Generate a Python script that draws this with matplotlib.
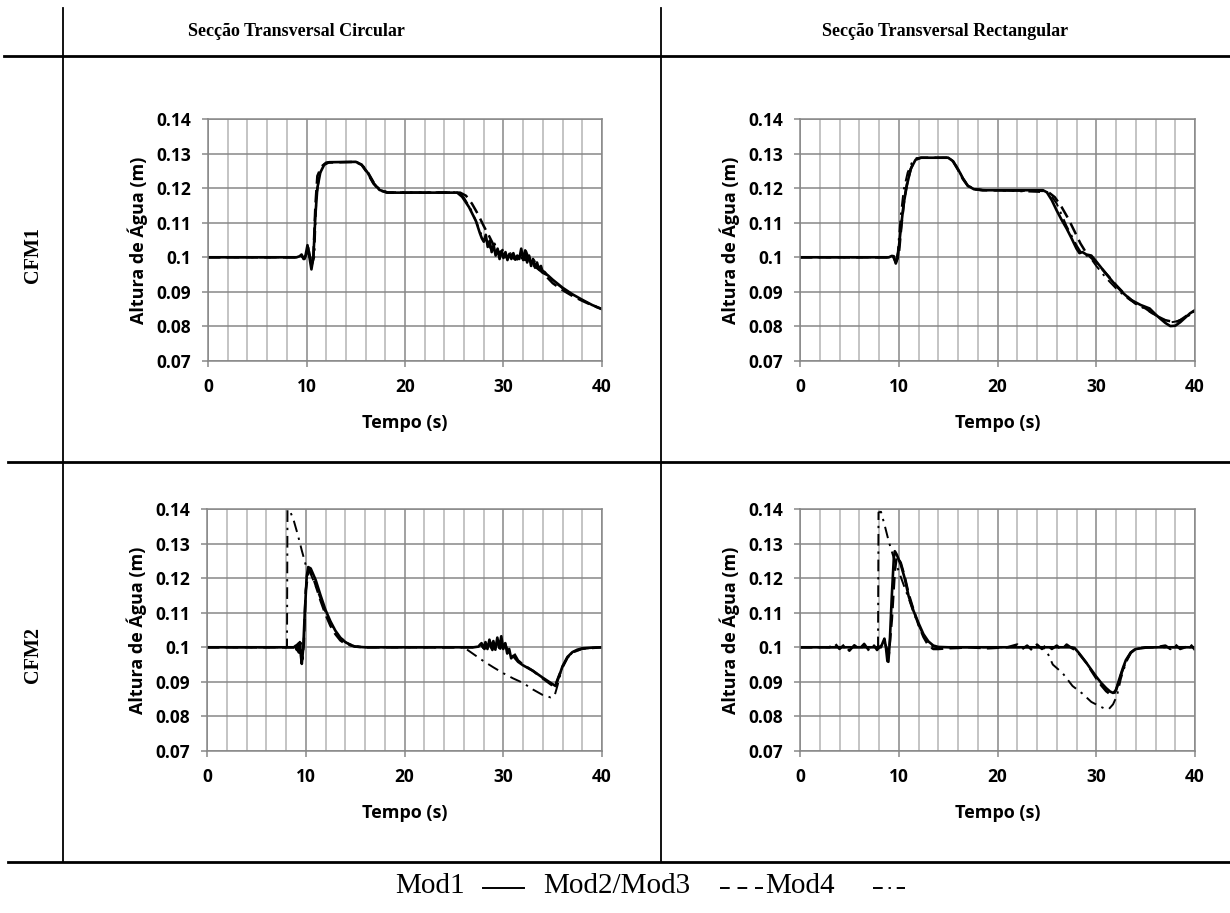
import numpy as np
import matplotlib.pyplot as plt
from matplotlib.lines import Line2D

plt.rcParams['font.family'] = ['Open Sans', 'DejaVu Sans']
plt.rcParams['font.weight'] = 'bold'

# water height (m) against time (s), read off each run
# circular section, CFM1
t_c1_m1 = [0, 9.0, 9.3, 9.5, 9.7, 9.9, 10.1, 10.3, 10.5, 10.7, 10.9, 11.1, 11.4, 11.8, 12.3, 15.0, 15.6, 16.2,
           16.8, 17.4, 18.2, 25.3, 25.8, 26.5, 27.2, 27.6, 27.8, 28.0, 28.2, 28.4, 28.6, 28.8, 29.0, 29.2, 29.4,
           29.6, 29.8, 30.0, 30.2, 30.4, 30.6, 30.8, 31.0, 31.2, 31.4, 31.6, 31.8, 32.0, 32.2, 32.4, 32.6, 32.8,
           33.0, 33.2, 33.4, 33.6, 33.8, 34.0, 34.5, 35.0, 36.0, 37.0, 38.0, 39.0, 40.0]
h_c1_m1 = [0.1, 0.1, 0.1003, 0.1008, 0.0995, 0.1005, 0.1035, 0.1, 0.0965, 0.1, 0.112, 0.12, 0.1245, 0.1268,
           0.1275, 0.1276, 0.1268, 0.1245, 0.1215, 0.1195, 0.1187, 0.1187, 0.1175, 0.1145, 0.1105, 0.107, 0.1055,
           0.1045, 0.1065, 0.103, 0.1048, 0.1015, 0.1035, 0.1005, 0.1025, 0.0995, 0.1018, 0.0998, 0.1015, 0.0992,
           0.101, 0.0995, 0.1012, 0.0993, 0.1005, 0.0995, 0.1025, 0.0992, 0.102, 0.0985, 0.1005, 0.0975, 0.0995,
           0.097, 0.0985, 0.0965, 0.0975, 0.0955, 0.0948, 0.0935, 0.0912, 0.0893, 0.0877, 0.0862, 0.085]
t_c1_m2 = [0, 9.0, 9.4, 9.8, 10.2, 10.5, 10.7, 10.9, 11.1, 11.5, 12.0, 15.0, 15.6, 16.2, 16.8, 17.4, 18.2, 25.6,
           26.2, 26.8, 27.4, 28.0, 28.6, 29.0, 29.4, 29.8, 30.2, 30.6, 31.0, 31.4, 31.8, 32.2, 32.6, 33.0, 34.0,
           35.0, 36.0, 37.0, 38.0, 39.0, 40.0]
h_c1_m2 = [0.1, 0.1, 0.1006, 0.0995, 0.1025, 0.098, 0.1005, 0.115, 0.1235, 0.1262, 0.1274, 0.1276, 0.1267,
           0.1243, 0.1213, 0.1194, 0.1187, 0.1187, 0.1178, 0.1155, 0.1125, 0.109, 0.1058, 0.1035, 0.102, 0.1008,
           0.1008, 0.0992, 0.1006, 0.0994, 0.1012, 0.0992, 0.1, 0.0978, 0.0955, 0.0925, 0.0905, 0.0888, 0.0874,
           0.0861, 0.085]
t_c1_m4 = [0, 9.1, 9.5, 9.9, 10.2, 10.5, 10.8, 11.0, 11.3, 11.7, 12.2, 15.1, 15.7, 16.3, 16.9, 17.5, 18.3, 25.4,
           26.0, 26.7, 27.3, 27.8, 28.3, 28.7, 29.1, 29.5, 29.9, 30.3, 30.7, 31.1, 31.5, 31.9, 32.3, 32.7, 33.1,
           33.6, 34.2, 35.0, 36.0, 37.0, 38.0, 39.0, 40.0]
h_c1_m4 = [0.1, 0.1, 0.1004, 0.0997, 0.1028, 0.0972, 0.1002, 0.117, 0.1238, 0.1265, 0.1275, 0.1276, 0.1266,
           0.1244, 0.1214, 0.1195, 0.1188, 0.1188, 0.1172, 0.1138, 0.1098, 0.1062, 0.1048, 0.1025, 0.104, 0.1008,
           0.1022, 0.0998, 0.1012, 0.0994, 0.1008, 0.0996, 0.1018, 0.0988, 0.0992, 0.0968, 0.0958, 0.0932, 0.091,
           0.0891, 0.0876, 0.0862, 0.0851]

# rectangular section, CFM1
t_r1_m1 = [0, 9.0, 9.3, 9.5, 9.7, 9.9, 10.2, 10.5, 10.8, 11.2, 11.7, 12.2, 15.0, 15.5, 16.0, 16.5, 17.0, 17.6,
           18.5, 24.6, 25.0, 25.5, 26.0, 26.5, 27.0, 27.5, 28.0, 28.3, 28.6, 29.0, 29.5, 30.0, 30.5, 31.0, 31.5,
           32.0, 32.7, 33.5, 34.5, 35.4, 36.0, 36.5, 37.0, 37.5, 38.0, 38.5, 39.0, 39.5, 40.0]
h_r1_m1 = [0.1, 0.1, 0.1004, 0.1003, 0.0982, 0.1, 0.108, 0.1155, 0.1205, 0.1255, 0.1282, 0.1288, 0.1288,
           0.1278, 0.1255, 0.1228, 0.1207, 0.1197, 0.1194, 0.1194, 0.1188, 0.1165, 0.1135, 0.1108, 0.1083,
           0.1055, 0.1025, 0.1012, 0.1015, 0.1008, 0.1005, 0.0988, 0.097, 0.0952, 0.0935, 0.0918, 0.0897,
           0.0877, 0.0862, 0.0852, 0.0835, 0.0822, 0.081, 0.0801, 0.0802, 0.0812, 0.0825, 0.0838, 0.0847]
t_r1_m2 = [0, 9.0, 9.4, 9.7, 10.0, 10.3, 10.6, 10.9, 11.3, 11.8, 12.3, 15.0, 15.5, 16.0, 16.5, 17.0, 17.6, 18.5,
           25.0, 25.8, 26.5, 27.2, 27.8, 28.4, 29.0, 29.5, 30.0, 31.0, 32.0, 33.0, 34.0, 35.0, 36.0, 37.0, 38.0,
           38.5, 39.0, 39.5, 40.0]
h_r1_m2 = [0.1, 0.1, 0.1004, 0.0985, 0.1005, 0.11, 0.1175, 0.1222, 0.1262, 0.1284, 0.1288, 0.1288, 0.1277,
           0.1253, 0.1226, 0.1206, 0.1197, 0.1194, 0.1192, 0.1174, 0.1145, 0.111, 0.1075, 0.104, 0.1012, 0.0998,
           0.0985, 0.0953, 0.092, 0.089, 0.0866, 0.0852, 0.0832, 0.0818, 0.0812, 0.0818, 0.0828, 0.0838, 0.0845]
t_r1_m4 = [0, 9.0, 9.4, 9.7, 9.9, 10.2, 10.5, 10.9, 11.3, 11.8, 15.0, 15.5, 16.0, 16.5, 17.0, 17.6, 18.5, 25.2,
           26.0, 27.0, 28.0, 28.5, 29.0, 29.5, 30.0, 31.0, 32.0, 33.0, 34.0, 35.0, 36.0, 37.0, 37.6, 38.2, 39.0,
           40.0]
h_r1_m4 = [0.1, 0.1, 0.1003, 0.0988, 0.1015, 0.112, 0.1195, 0.1245, 0.1272, 0.1287, 0.1288, 0.1279, 0.1256,
           0.1229, 0.1208, 0.1198, 0.1195, 0.1188, 0.1155, 0.109, 0.1035, 0.1012, 0.1005, 0.0995, 0.0975, 0.094,
           0.091, 0.0885, 0.0865, 0.085, 0.0832, 0.0818, 0.0812, 0.0815, 0.0825, 0.0842]

# circular section, CFM2
t_c2_m1 = [0, 8.8, 9.0, 9.1, 9.2, 9.3, 9.4, 9.5, 9.6, 9.75, 9.9, 10.1, 10.25, 10.5, 11.0, 11.5, 12.0, 12.5, 13.0,
           13.5, 14.0, 14.5, 15.0, 16.0, 27.0, 27.5, 27.8, 28.0, 28.2, 28.4, 28.6, 28.8, 29.0, 29.2, 29.4, 29.6,
           29.8, 30.0, 30.2, 30.4, 30.6, 30.8, 31.0, 31.5, 32.0, 33.0, 34.0, 34.8, 35.3, 35.7, 36.0, 36.5, 37.0,
           37.5, 38.0, 39.0, 40.0]
h_c2_m1 = [0.1, 0.1, 0.1005, 0.0992, 0.101, 0.0985, 0.1015, 0.0978, 0.0952, 0.1, 0.11, 0.1205, 0.1232, 0.1228,
           0.1195, 0.115, 0.1108, 0.1075, 0.1048, 0.1028, 0.1015, 0.1007, 0.1002, 0.1, 0.1, 0.1002, 0.1012,
           0.0998, 0.1015, 0.0995, 0.1022, 0.1, 0.1018, 0.0993, 0.1028, 0.0998, 0.1032, 0.0995, 0.1012, 0.0982,
           0.0995, 0.0968, 0.0975, 0.0958, 0.0948, 0.0932, 0.0912, 0.0897, 0.0888, 0.092, 0.0945, 0.0972, 0.0986,
           0.0993, 0.0997, 0.0999, 0.1]
t_c2_m2 = [0, 8.9, 9.1, 9.3, 9.5, 9.65, 9.8, 10.0, 10.3, 10.6, 11.0, 11.5, 12.0, 12.5, 13.0, 13.5, 14.0, 15.0,
           16.0, 27.2, 27.7, 28.1, 28.5, 28.9, 29.3, 29.7, 30.1, 30.5, 30.9, 31.5, 32.0, 33.0, 34.0, 34.8, 35.2,
           35.6, 36.0, 36.5, 37.0, 38.0, 40.0]
h_c2_m2 = [0.1, 0.1, 0.1008, 0.099, 0.1012, 0.0965, 0.1008, 0.1165, 0.1225, 0.1215, 0.118, 0.1135, 0.1095,
           0.1062, 0.1038, 0.102, 0.101, 0.1002, 0.1, 0.1, 0.1008, 0.0995, 0.1015, 0.0992, 0.1022, 0.0996,
           0.1018, 0.0985, 0.0992, 0.0962, 0.095, 0.0932, 0.091, 0.0893, 0.0885, 0.0915, 0.0942, 0.097, 0.0985,
           0.0996, 0.1]
t_c2_m4 = [0, 8.1, 8.15, 8.4, 8.8, 9.2, 9.6, 10.0, 10.5, 11.0, 12.0, 13.0, 14.0, 15.0, 16.0, 26.0, 26.5, 27.4,
           28.0, 29.0, 30.0, 31.0, 32.0, 33.0, 34.0, 34.8, 35.2, 35.5, 36.0, 36.5, 37.0, 38.0, 40.0]
h_c2_m4 = [0.1, 0.1, 0.1398, 0.1395, 0.1365, 0.1325, 0.128, 0.1238, 0.1212, 0.1178, 0.1102, 0.1045, 0.1015,
           0.1003, 0.1, 0.1, 0.099, 0.0972, 0.096, 0.0942, 0.0925, 0.091, 0.0897, 0.0878, 0.0862, 0.0855, 0.086,
           0.089, 0.0945, 0.097, 0.0985, 0.0996, 0.1]

# rectangular section, CFM2
t_r2_m1 = [0, 8.2, 8.4, 8.55, 8.7, 8.85, 8.95, 9.1, 9.3, 9.5, 9.6, 9.8, 10.2, 10.6, 11.0, 11.5, 12.0, 12.5, 13.0,
           13.5, 14.0, 15.0, 27.5, 27.8, 28.2, 28.6, 29.0, 29.5, 30.0, 30.5, 31.0, 31.4, 31.7, 32.0, 32.3, 32.7,
           33.0, 33.5, 34.0, 35.0, 36.0, 40.0]
h_r2_m1 = [0.1, 0.1, 0.1015, 0.1025, 0.1, 0.096, 0.0958, 0.102, 0.115, 0.1258, 0.1278, 0.1268, 0.124, 0.12,
           0.1148, 0.1105, 0.107, 0.1038, 0.1017, 0.1005, 0.1001, 0.1, 0.1, 0.0998, 0.0985, 0.097, 0.0955,
           0.0935, 0.0915, 0.0897, 0.0882, 0.0872, 0.0868, 0.0875, 0.0905, 0.094, 0.0963, 0.0985, 0.0995,
           0.0999, 0.1, 0.1]
t_r2_m2 = [0, 3.0, 3.5, 4.0, 4.5, 5.0, 5.5, 6.0, 6.5, 7.0, 7.5, 7.8, 8.2, 8.6, 9.0, 9.3, 9.6, 9.8, 10.2, 10.6,
           11.0, 11.5, 12.0, 12.5, 13.0, 13.5, 14.0, 15.0, 16.0, 17.0, 19.0, 21.0, 22.0, 22.5, 23.0, 23.5, 24.0,
           24.5, 25.0, 25.5, 26.0, 26.5, 27.0, 27.5, 28.0, 28.5, 29.0, 29.5, 30.0, 30.5, 31.0, 31.5, 31.8, 32.1,
           32.5, 33.0, 33.5, 34.0, 35.0, 36.0, 37.0, 37.5, 38.0, 38.5, 39.0, 39.5, 40.0]
h_r2_m2 = [0.1, 0.1, 0.1012, 0.0995, 0.1008, 0.099, 0.1006, 0.0995, 0.101, 0.099, 0.1005, 0.0992, 0.1005,
           0.1012, 0.098, 0.108, 0.122, 0.1262, 0.1245, 0.1205, 0.1155, 0.1108, 0.1065, 0.103, 0.1005, 0.0995,
           0.0995, 0.0997, 0.0998, 0.1, 0.0997, 0.1, 0.1008, 0.0995, 0.1005, 0.0992, 0.1008, 0.0995, 0.1008,
           0.0995, 0.1005, 0.0993, 0.1008, 0.0998, 0.099, 0.0973, 0.0955, 0.0932, 0.091, 0.089, 0.0873, 0.0862,
           0.0865, 0.0885, 0.092, 0.096, 0.0985, 0.0996, 0.1, 0.1, 0.1005, 0.0995, 0.1008, 0.0995, 0.1, 0.101,
           0.0992]
t_r2_m4 = [0, 7.9, 7.95, 8.2, 8.6, 9.0, 9.5, 10.0, 10.5, 11.0, 11.5, 12.0, 12.5, 13.0, 13.5, 14.0, 24.6, 25.0,
           25.6, 26.6, 27.6, 28.6, 29.5, 30.3, 30.9, 31.3, 31.7, 32.1, 32.5, 33.0, 33.5, 34.0, 35.0, 40.0]
h_r2_m4 = [0.1, 0.1, 0.139, 0.1392, 0.135, 0.1305, 0.1258, 0.122, 0.118, 0.1142, 0.11, 0.1065, 0.1035, 0.1012,
           0.1002, 0.1, 0.1, 0.0988, 0.095, 0.0925, 0.0888, 0.0866, 0.0842, 0.083, 0.0822, 0.0822, 0.0835,
           0.086, 0.091, 0.0955, 0.0983, 0.0995, 0.1, 0.1]

col_titles = ['Secção Transversal Circular', 'Secção Transversal Rectangular']
row_titles = ['CFM1', 'CFM2']
x_ticks = [0, 10, 20, 30, 40]
y_ticks = [0.07, 0.08, 0.09, 0.10, 0.11, 0.12, 0.13, 0.14]
y_tick_labels = ['0.07', '0.08', '0.09', '0.1', '0.11', '0.12', '0.13', '0.14']

W, H = 1230, 913
fig = plt.figure(figsize=(W / 100, H / 100), dpi=100)

def add_ax(l, t, r, b):
    return fig.add_axes([l / W, 1 - b / H, (r - l) / W, (b - t) / H])

def style(ax):
    ax.set_xlim(0, 40)
    ax.set_ylim(0.07, 0.14)
    ax.set_xticks(x_ticks)
    ax.set_xticks([x for x in range(2, 40, 2) if x % 10], minor=True)
    ax.set_yticks(y_ticks)
    ax.set_yticklabels(y_tick_labels)
    ax.grid(which='minor', axis='x', color='#bfbfbf', lw=1.3)
    ax.grid(which='major', axis='both', color='#878787', lw=1.1)
    ax.set_axisbelow(True)
    for s in ax.spines.values():
        s.set_color('#878787')
        s.set_linewidth(1.1)
    ax.tick_params(which='major', direction='out', length=4, width=1.1, color='#878787',
                   labelsize=12.5, pad=8)
    ax.tick_params(which='minor', length=0)
    for lbl in ax.get_xticklabels() + ax.get_yticklabels():
        lbl.set_fontweight('bold')
    ax.set_xlabel('Tempo (s)', fontsize=13, fontweight='bold', labelpad=13)
    ax.set_ylabel('Altura de Água (m)', fontsize=13, fontweight='bold', labelpad=6)

panels = [
    (add_ax(208, 119, 602, 361), (t_c1_m1, h_c1_m1), (t_c1_m2, h_c1_m2), (t_c1_m4, h_c1_m4)),
    (add_ax(800, 119, 1195, 361), (t_r1_m1, h_r1_m1), (t_r1_m2, h_r1_m2), (t_r1_m4, h_r1_m4)),
    (add_ax(207, 509, 602, 751), (t_c2_m1, h_c2_m1), (t_c2_m2, h_c2_m2), (t_c2_m4, h_c2_m4)),
    (add_ax(800, 509, 1195, 751), (t_r2_m1, h_r2_m1), (t_r2_m2, h_r2_m2), (t_r2_m4, h_r2_m4)),
]

for ax, m1, m2, m4 in panels:
    style(ax)
    ax.plot(*m4, color='black', lw=1.4, ls=(0, (6, 3, 1.2, 3)))
    ax.plot(*m2, color='black', lw=1.8, ls=(0, (5, 2.5)))
    ax.plot(*m1, color='black', lw=1.9)

# table frame
def fig_line(x0, y0, x1, y1, lw, ls='-'):
    fig.add_artist(Line2D([x0 / W, x1 / W], [1 - y0 / H, 1 - y1 / H], color='black', lw=lw, ls=ls))

fig_line(63, 8, 63, 862, 1.3)
fig_line(661, 8, 661, 862, 1.3)
fig_line(4, 56, W, 56, 2.0)
fig_line(8, 462, W, 462, 2.0)
fig_line(8, 862, W, 862, 2.0)

serif = ['Liberation Serif', 'DejaVu Serif']
head = dict(family=serif, weight='bold', fontsize=13, ha='center', va='center')
fig.text(296 / W, 1 - 31 / H, col_titles[0], **head)
fig.text(945 / W, 1 - 31 / H, col_titles[1], **head)
fig.text(33 / W, 1 - 255 / H, row_titles[0], rotation=90, **dict(head, fontsize=14.5))
fig.text(33 / W, 1 - 655 / H, row_titles[1], rotation=90, **dict(head, fontsize=14.5))

# legend written as a line of text with line samples
leg_y = 886
leg = dict(family=serif, weight='normal', fontsize=21, va='center')
fig.text(395 / W, 1 - leg_y / H, 'Mod1', **leg)
fig.text(543 / W, 1 - leg_y / H, 'Mod2/Mod3', **leg)
fig.text(765 / W, 1 - leg_y / H, 'Mod4', **leg)
fig_line(483, leg_y + 2, 524, leg_y + 2, 1.4)
fig_line(720, leg_y + 2, 763, leg_y + 2, 1.4, ls=(0, (5, 4)))
fig_line(873, leg_y + 2, 905, leg_y + 2, 1.4, ls=(0, (5, 3, 1.2, 3)))

fig.savefig('out.png', dpi=100)
